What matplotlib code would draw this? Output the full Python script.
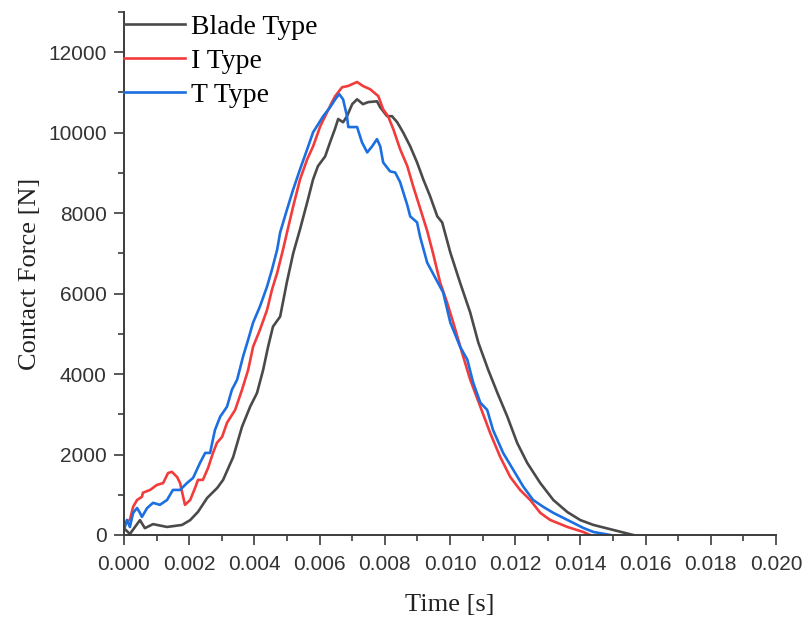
import matplotlib
matplotlib.use("Agg")
import matplotlib.pyplot as plt
from matplotlib.ticker import MultipleLocator, FormatStrFormatter

# ---- data (time [s], contact force [N]) ----
blade_t = [0.0, 0.00018, 0.00049, 0.00064, 0.00089, 0.00132, 0.00178, 0.00203, 0.00227, 0.00255,
           0.00286, 0.00304, 0.00335, 0.00362, 0.00387, 0.00408, 0.00427, 0.00442, 0.00457, 0.00479,
           0.00500, 0.00519, 0.00540, 0.00562, 0.00580, 0.00595, 0.00617, 0.00632, 0.00647, 0.00657,
           0.00672, 0.00684, 0.00700, 0.00715, 0.00733, 0.00749, 0.00776, 0.00786, 0.00807, 0.00822,
           0.00838, 0.00856, 0.00878, 0.00899, 0.00918, 0.00939, 0.00961, 0.00976, 0.01001, 0.01031,
           0.01062, 0.01087, 0.01117, 0.01145, 0.01176, 0.01206, 0.01237, 0.01277, 0.01317, 0.01360,
           0.01400, 0.01440, 0.01501, 0.01562]
blade_f = [170, 25, 370, 170, 270, 200, 250, 370, 575, 920,
           1170, 1370, 1940, 2690, 3190, 3530, 4110, 4680, 5180, 5430,
           6300, 7000, 7600, 8270, 8840, 9170, 9410, 9760, 10090, 10340,
           10260, 10410, 10710, 10830, 10710, 10760, 10780, 10630, 10410, 10410,
           10260, 10010, 9660, 9260, 8840, 8420, 7920, 7770, 7020, 6270,
           5530, 4780, 4110, 3540, 2940, 2290, 1790, 1290, 870, 570,
           370, 250, 125, 0]

i_t = [0.0, 0.00018, 0.00028, 0.00040, 0.00055, 0.00058, 0.00080, 0.00101, 0.00120, 0.00135,
       0.00147, 0.00163, 0.00172, 0.00187, 0.00203, 0.00218, 0.00227, 0.00242, 0.00258, 0.00273,
       0.00285, 0.00301, 0.00316, 0.00341, 0.00362, 0.00381, 0.00396, 0.00417, 0.00439, 0.00454,
       0.00470, 0.00488, 0.00500, 0.00519, 0.00540, 0.00562, 0.00580, 0.00602, 0.00623, 0.00638,
       0.00648, 0.00669, 0.00687, 0.00715, 0.00733, 0.00755, 0.00780, 0.00795, 0.00810, 0.00826,
       0.00847, 0.00869, 0.00887, 0.00908, 0.00930, 0.00948, 0.00970, 0.00991, 0.01010, 0.01037,
       0.01062, 0.01093, 0.01123, 0.01154, 0.01185, 0.01215, 0.01246, 0.01277, 0.01307, 0.01360,
       0.01409, 0.01430]
i_f = [300, 375, 700, 870, 950, 1050, 1120, 1245, 1290, 1540,
       1570, 1440, 1290, 750, 870, 1170, 1370, 1370, 1670, 2040,
       2290, 2440, 2790, 3110, 3610, 4110, 4680, 5100, 5600, 6100,
       6520, 7100, 7520, 8170, 8840, 9340, 9660, 10160, 10510, 10760,
       10910, 11130, 11160, 11260, 11160, 11080, 10910, 10580, 10410, 10090,
       9590, 9170, 8670, 8130, 7560, 7000, 6270, 5780, 5280, 4530,
       3860, 3190, 2540, 1940, 1440, 1120, 870, 550, 375, 200,
       75, 0]

t_t = [0.0, 0.00009, 0.00018, 0.00028, 0.00040, 0.00049, 0.00055, 0.00071, 0.00089, 0.00110,
       0.00132, 0.00150, 0.00172, 0.00193, 0.00212, 0.00233, 0.00249, 0.00264, 0.00279, 0.00295,
       0.00316, 0.00331, 0.00347, 0.00365, 0.00381, 0.00396, 0.00417, 0.00439, 0.00454, 0.00470,
       0.00479, 0.00500, 0.00519, 0.00540, 0.00562, 0.00580, 0.00611, 0.00632, 0.00648, 0.00660,
       0.00672, 0.00684, 0.00688, 0.00715, 0.00730, 0.00746, 0.00761, 0.00776, 0.00786, 0.00795,
       0.00816, 0.00832, 0.00847, 0.00869, 0.00878, 0.00899, 0.00908, 0.00930, 0.00961, 0.00979,
       0.01001, 0.01031, 0.01053, 0.01071, 0.01093, 0.01114, 0.01132, 0.01163, 0.01194, 0.01225,
       0.01255, 0.01286, 0.01317, 0.01360, 0.01409, 0.01440, 0.01492]
t_f = [125, 375, 200, 550, 670, 550, 450, 670, 800, 750,
       870, 1120, 1120, 1290, 1420, 1790, 2040, 2040, 2610, 2940,
       3190, 3610, 3860, 4430, 4860, 5280, 5680, 6180, 6600, 7100,
       7520, 8090, 8590, 9090, 9590, 10010, 10410, 10630, 10830, 10960,
       10830, 10410, 10140, 10140, 9760, 9510, 9660, 9840, 9660, 9260,
       9040, 9010, 8770, 8200, 7920, 7770, 7420, 6770, 6300, 6030,
       5280, 4680, 4360, 3790, 3290, 3110, 2610, 2040, 1620, 1200,
       870, 700, 550, 375, 175, 75, 0]

labels = ["Blade Type", "I Type", "T Type"]
colors = ["#4a4a4a", "#f23c3c", "#1c6fe0"]

serif = ["Liberation Serif", "DejaVu Serif"]
sans = ["Liberation Sans", "DejaVu Sans"]

fig = plt.figure(figsize=(8.03, 6.17), dpi=100)
ax = fig.add_axes([124 / 803, 1 - 535 / 617, (776 - 124) / 803, (535 - 12) / 617])

for (tt, ff), lab, c in zip([(blade_t, blade_f), (i_t, i_f), (t_t, t_f)], labels, colors):
    ax.plot(tt, ff, color=c, lw=1.9, label=lab)

ax.set_xlim(0, 0.020)
ax.set_ylim(0, 13000)

ax.xaxis.set_major_locator(MultipleLocator(0.002))
ax.xaxis.set_minor_locator(MultipleLocator(0.001))
ax.xaxis.set_major_formatter(FormatStrFormatter("%.3f"))
ax.yaxis.set_major_locator(MultipleLocator(2000))
ax.yaxis.set_minor_locator(MultipleLocator(1000))

spine_c = "#3c3c3c"
for s in ["top", "right"]:
    ax.spines[s].set_visible(False)
for s in ["left", "bottom"]:
    ax.spines[s].set_color(spine_c)
    ax.spines[s].set_linewidth(1.4)

ax.tick_params(which="major", direction="out", length=7.5, width=1.2, color=spine_c,
               labelsize=15, labelcolor="#333333", pad=5)
ax.tick_params(axis="x", which="major", pad=7)
ax.tick_params(which="minor", direction="out", length=4, width=1.2, color=spine_c)
for lbl in ax.get_xticklabels() + ax.get_yticklabels():
    lbl.set_fontfamily(sans)

ax.set_xlabel("Time [s]", fontsize=19, family=serif, color="#222222", labelpad=14)
ax.set_ylabel("Contact Force [N]", fontsize=19, family=serif, color="#222222", labelpad=5)

leg = ax.legend(loc="upper left", bbox_to_anchor=(0, 0.995), frameon=False,
                prop={"family": serif, "size": 20}, borderaxespad=0, borderpad=0,
                handlelength=2.2, handletextpad=0.2, labelspacing=0.3)

fig.savefig("out.png", dpi=100)
